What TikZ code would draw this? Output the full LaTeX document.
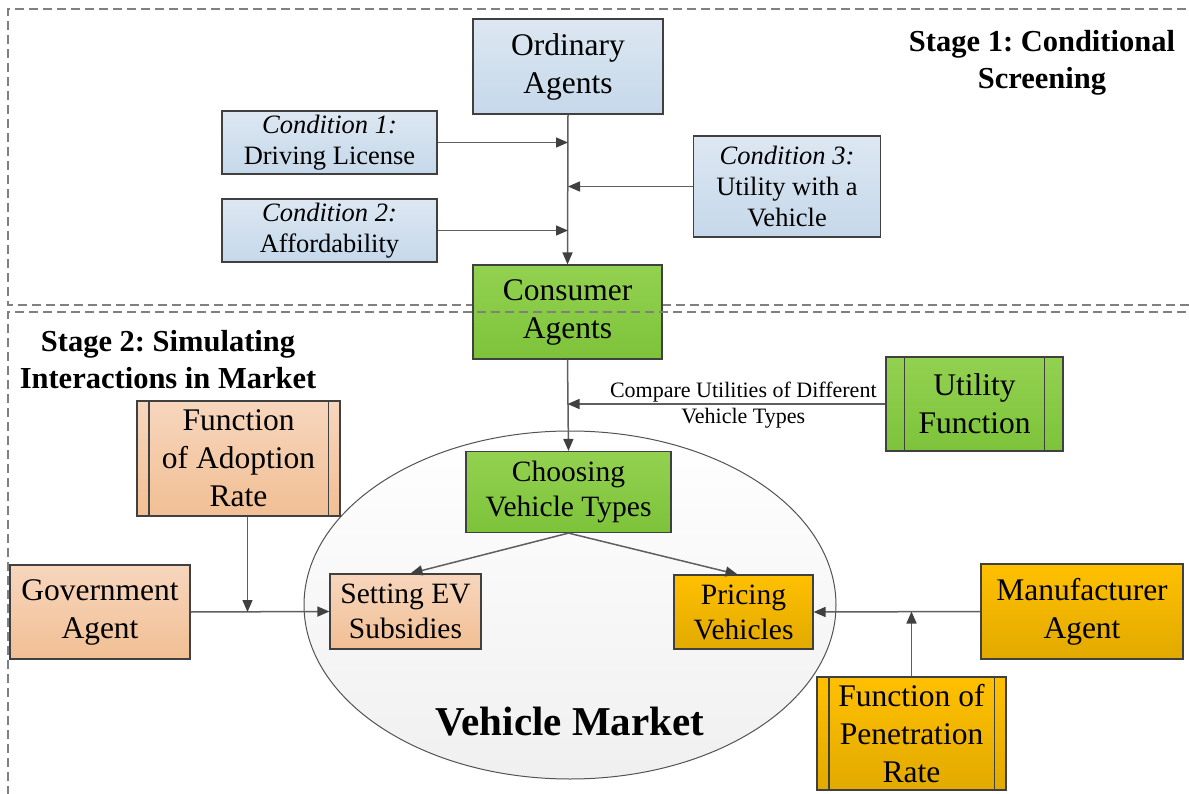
\documentclass[tikz,border=0pt]{standalone}
\usepackage{fontspec}
\setmainfont{Liberation Serif}
\usetikzlibrary{arrows.meta,shadings,calc,shapes.geometric}
\definecolor{blueT}{HTML}{DDE7F2}
\definecolor{blueB}{HTML}{C5D8EA}
\definecolor{greenT}{HTML}{93D150}
\definecolor{greenB}{HTML}{7DC33A}
\definecolor{peachT}{HTML}{F7D6BD}
\definecolor{peachB}{HTML}{F1BF94}
\definecolor{goldT}{HTML}{FFC000}
\definecolor{goldB}{HTML}{E2AA00}
\definecolor{edge}{HTML}{404040}
\definecolor{conn}{HTML}{5F5F5F}
\definecolor{dash}{HTML}{808080}
\tikzset{
  boxbase/.style={draw=edge, line width=1.2pt, rectangle, align=center, inner sep=0pt},
  bluebox/.style={boxbase, top color=blueT, bottom color=blueB},
  greenbox/.style={boxbase, top color=greenT, bottom color=greenB},
  peachbox/.style={boxbase, top color=peachT, bottom color=peachB},
  goldbox/.style={boxbase, top color=goldT, bottom color=goldB},
  bigtxt/.style={font=\fontsize{31.5}{38}\selectfont},
  midtxt/.style={font=\fontsize{29.5}{35}\selectfont},
  condtxt/.style={font=\fontsize{26.5}{31}\selectfont},
  arr/.style={draw=conn, line width=1.5pt, -{Triangle[length=12pt,width=10pt,color=edge]}},
  stagebox/.style={draw=dash, line width=1.3pt, dash pattern=on 9pt off 5pt},
  titletxt/.style={font=\fontsize{30.5}{37}\selectfont\bfseries, align=center}
}
\begin{document}
\frenchspacing
\begin{tikzpicture}[x=1pt,y=-1pt]
\useasboundingbox (0,0) rectangle (1189,794);
% stage 1 frame
\draw[stagebox] (1200,9) -- (8,9) -- (8,305) -- (1200,305);
% ellipse (vehicle market)
\node[draw=edge!90, line width=1pt, ellipse, minimum width=532pt, minimum height=348pt, inner sep=0pt,
      top color=white, bottom color=black!6] (mkt) at (570,605) {};
\node[font=\fontsize{41}{48}\selectfont\bfseries] (mktlbl) at (570,722) {Vehicle Market};
% nodes
\node[bluebox, bigtxt, minimum width=190pt, minimum height=95pt] (ord) at (568,66.5) {Ordinary\\Agents};
\node[bluebox, condtxt, minimum width=215pt, minimum height=63pt] (c1) at (329.5,142.5) {\textit{Condition 1:}\\Driving License};
\node[bluebox, condtxt, minimum width=215pt, minimum height=63pt] (c2) at (329.5,230.5) {\textit{Condition 2:}\\Affordability};
\node[bluebox, condtxt, minimum width=187pt, minimum height=101pt] (c3) at (787,186.5) {\textit{Condition 3:}\\Utility with a\\Vehicle};
\node[greenbox, bigtxt, minimum width=189pt, minimum height=94pt] (cons) at (567.5,312) {Consumer\\Agents};
\node[greenbox, bigtxt, minimum width=177pt, minimum height=94pt] (util) at (974.5,404) {Utility\\Function};
\node[greenbox, midtxt, minimum width=205pt, minimum height=81pt] (choose) at (568.5,492) {Choosing\\Vehicle Types};
\node[peachbox, midtxt, minimum width=151pt, minimum height=75pt] (setev) at (405.5,611.5) {Setting EV\\Subsidies};
\node[goldbox, midtxt, minimum width=139pt, minimum height=74pt] (price) at (743.5,612) {Pricing\\Vehicles};
\node[peachbox, bigtxt, minimum width=180pt, minimum height=94pt] (gov) at (100,612) {Government\\Agent};
\node[peachbox, bigtxt, minimum width=203pt, minimum height=115pt] (fadopt) at (238.5,458.5) {Function\\of Adoption\\Rate};
\node[goldbox, bigtxt, minimum width=202pt, minimum height=95pt] (manu) at (1082,611.5) {Manufacturer\\Agent};
\node[goldbox, bigtxt, minimum width=189pt, minimum height=113pt] (fpen) at (911.5,733.5) {Function of\\Penetration\\Rate};
% predefined-process side bars
\foreach \n/\d in {util/19, fadopt/12.5, fpen/12.5}{
  \draw[edge, line width=1.2pt] ([xshift=\d pt]\n.north west) -- ([xshift=\d pt]\n.south west);
  \draw[edge, line width=1.2pt] ([xshift=-\d pt]\n.north east) -- ([xshift=-\d pt]\n.south east);
}
% stage 2 frame (drawn over consumer box)
\draw[stagebox] (1200,312) -- (8,312) -- (8,810);
% titles
\node[titletxt] (t1) at (1042,63) {Stage 1: Conditional\\Screening};
\node[titletxt] (t2) at (168,359.5) {Stage 2: Simulating\\Interactions in Market};
% connectors, stage 1
\draw[arr] (ord.south) -- (cons.north);
\draw[arr] (c1.east) -- (c1.east -| ord.south);
\draw[arr] (c2.east) -- (c2.east -| ord.south);
\draw[arr] (c3.west) -- (c3.west -| ord.south);
% stage 2
\draw[arr] (cons.south) -- (choose.north);
\draw[arr] (util.west) -- (util.west -| cons.south)
  node[pos=0.447, above=1pt, font=\fontsize{22}{26}\selectfont, inner sep=0pt] (cmp1) {Compare Utilities of Different}
  node[pos=0.447, below=3pt, font=\fontsize{22}{26}\selectfont, inner sep=0pt] (cmp2) {Vehicle Types};
\draw[arr] (choose.south) -- ([xshift=5pt]setev.north);
\draw[arr] (choose.south) -- ([xshift=-6pt]price.north);
\draw[arr] (gov.east) -- (setev.west);
\coordinate (fa) at ([xshift=9pt]fadopt.south);
\draw[arr] (fa) -- (fa |- gov.east);
\draw[arr] (manu.west) -- (price.east);
\draw[arr] (fpen.north) -- (fpen.north |- manu.west);
\end{tikzpicture}
\end{document}
